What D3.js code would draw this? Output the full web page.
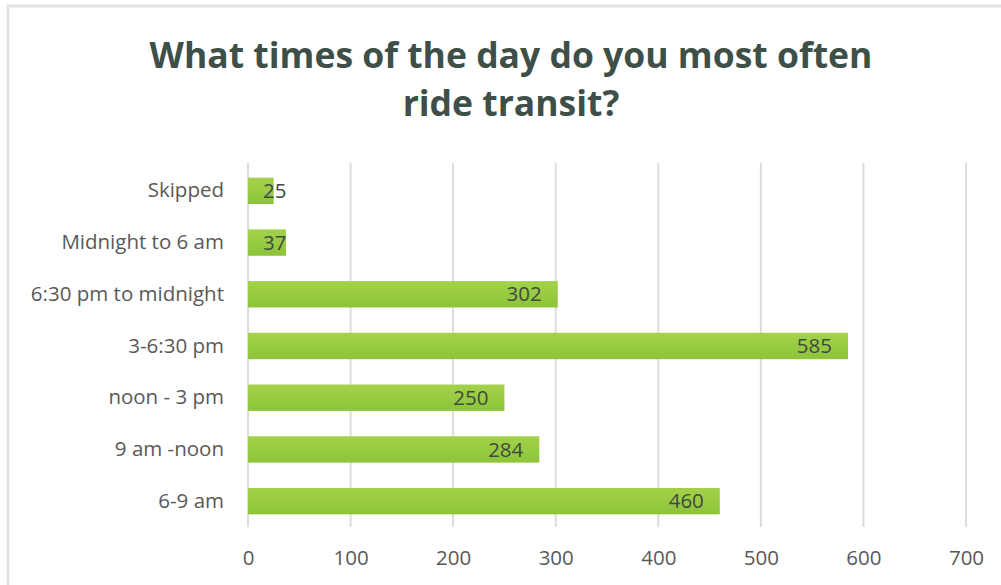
<!DOCTYPE html>
<html><head><meta charset="utf-8">
<script src="https://cdn.jsdelivr.net/npm/d3@7"></script>
<style>
html,body{margin:0;padding:0;background:#fff;}
svg{display:block;}
</style></head>
<body>
<svg id="chart" width="1001" height="585"></svg>
<script>
const titleLines = ["What times of the day do you most often", "ride transit?"];
const categories = ["Skipped", "Midnight to 6 am", "6:30 pm to midnight", "3-6:30 pm", "noon - 3 pm", "9 am -noon", "6-9 am"];
const values = [25, 37, 302, 585, 250, 284, 460];
const xTicks = [0, 100, 200, 300, 400, 500, 600, 700];

const svg = d3.select("#chart");
const W = 1001, H = 585;
const font = "'Open Sans', sans-serif";

// frame
svg.append("rect").attr("x", 8).attr("y", 6).attr("width", W + 10).attr("height", H + 10)
  .attr("fill", "#fff").attr("stroke", "#e3e3e3").attr("stroke-width", 3);

const defs = svg.append("defs");
const grad = defs.append("linearGradient").attr("id", "barGrad").attr("x1", 0).attr("y1", 0).attr("x2", 0).attr("y2", 1);
grad.append("stop").attr("offset", "0%").attr("stop-color", "#a3d24a");
grad.append("stop").attr("offset", "100%").attr("stop-color", "#8cc43a");

// title
svg.append("text").attr("text-anchor", "middle")
  .attr("font-family", font).attr("font-weight", 700).attr("font-size", 35.5)
  .attr("fill", "#3e4f47")
  .selectAll("tspan").data(titleLines).join("tspan")
  .attr("x", 511).attr("y", (d, i) => 68 + i * 48).text(d => d);

const x = d3.scaleLinear().domain([0, 700]).range([248, 966]);
const y = d3.scaleBand().domain(categories).range([165, 527]).paddingInner(0.49).paddingOuter(0.245);

// grid
svg.append("g").selectAll("line").data(xTicks).join("line")
  .attr("x1", d => x(d)).attr("x2", d => x(d)).attr("y1", 163).attr("y2", 527)
  .attr("stroke", "#dcdcdc").attr("stroke-width", 2);

// x axis labels
const xAxis = d3.axisBottom(x).tickValues(xTicks).tickSize(0).tickPadding(0);
const gx = svg.append("g").attr("transform", "translate(0,558)").call(xAxis);
gx.select(".domain").remove();
gx.selectAll("text").attr("font-family", font).attr("font-size", 20.5).attr("fill", "#595959").attr("dy", "0.35em");

// y axis labels
const yAxis = d3.axisLeft(y).tickSize(0).tickPadding(0);
const gy = svg.append("g").attr("transform", "translate(224,0)").call(yAxis);
gy.select(".domain").remove();
gy.selectAll("text").attr("font-family", font).attr("font-size", 20.5).attr("fill", "#595959");

// bars
svg.append("g").selectAll("rect").data(categories).join("rect")
  .attr("x", x(0)).attr("y", d => y(d))
  .attr("width", (d, i) => x(values[i]) - x(0)).attr("height", y.bandwidth())
  .attr("fill", "url(#barGrad)");

// value labels
const labels = svg.append("g").selectAll("text").data(categories).join("text")
  .attr("y", d => y(d) + y.bandwidth() / 2).attr("dy", "0.35em")
  .attr("text-anchor", "end")
  .attr("font-family", font).attr("font-size", 20.5).attr("fill", "#424a40")
  .text((d, i) => values[i]);
labels.attr("x", function(d, i) {
  const w = this.getComputedTextLength();
  return Math.max(x(values[i]) - 16, x(0) + 15 + w);
});
</script>
</body></html>
